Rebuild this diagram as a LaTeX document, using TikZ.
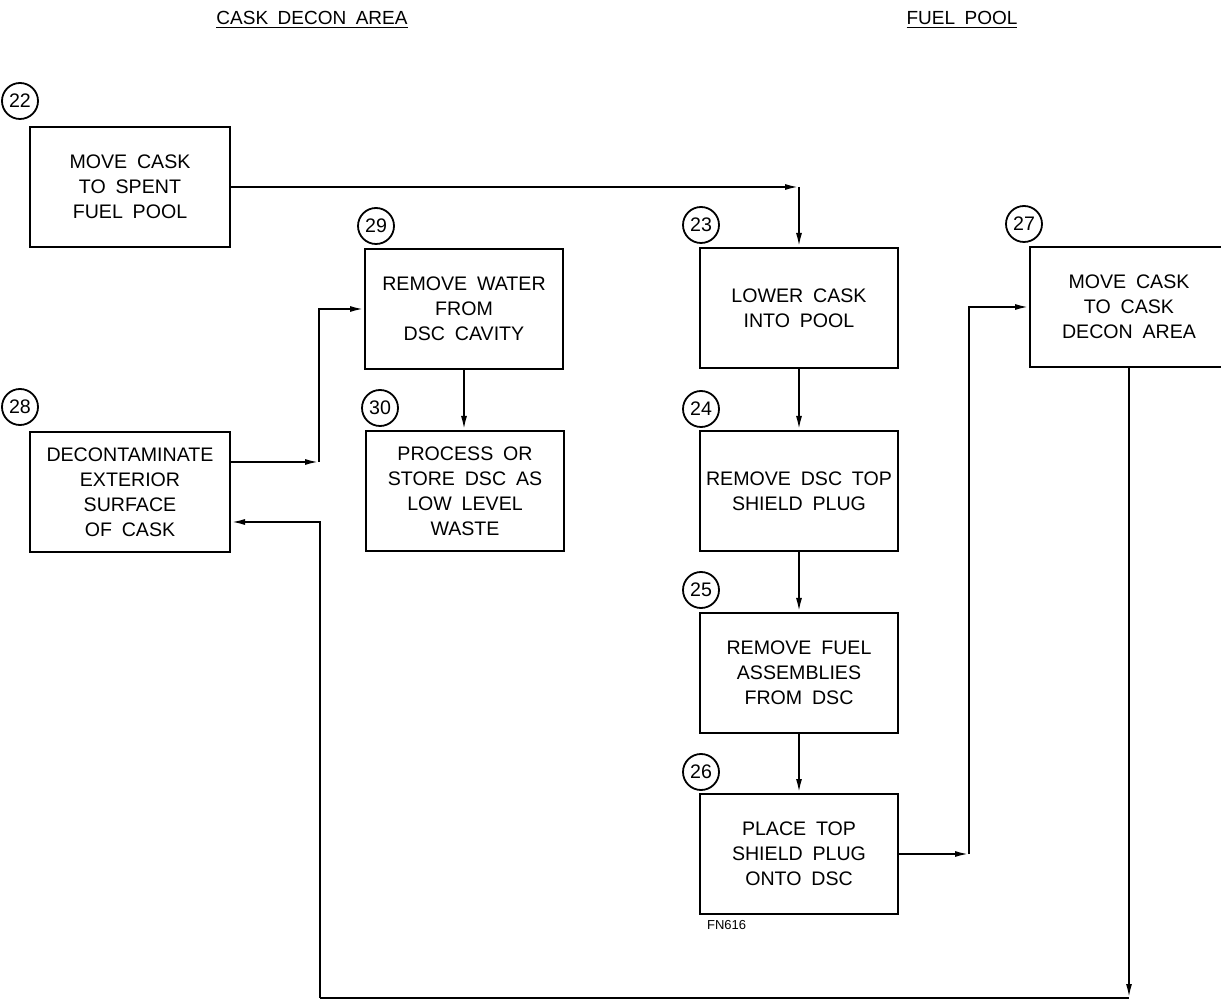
\documentclass[tikz,border=0pt]{standalone}
\usepackage{fontspec}
\setmainfont{Liberation Sans}[WordSpace=1.8]
\usetikzlibrary{arrows.meta,positioning,calc}
\tikzset{
  block/.style={
    draw=black,
    line width=1pt,
    align=center,
    minimum width=99pt,
    minimum height=60pt,
    inner sep=2pt,
    font=\fontsize{9.8}{12.5}\selectfont
  },
  stepno/.style={draw=black, circle, line width=0.9pt, minimum size=18pt, inner sep=0pt, font=\fontsize{9.8}{11}\selectfont},
  head/.style={font=\fontsize{9.5}{11}\selectfont},
  line/.style={-{Latex[length=7pt,width=3pt]}, line width=1pt}
}

\begin{document}
\begin{tikzpicture}[x=0.5pt, y=-0.5pt]
        \useasboundingbox (0,0) rectangle (1221,999);
        \clip (0,0) rectangle (1221,999);
        % area headings
        \node[head] (hdecon) at (312,20) {\underline{CASK DECON AREA}};
        \node[head] (hpool) at (962,20) {\underline{FUEL POOL}};
        % cask decon area
        \node[block, minimum width=100pt] (b22) at (130,187) {MOVE CASK\\TO SPENT\\FUEL POOL};
        \node[block, minimum width=100pt] (b28) at (130,492) {DECONTAMINATE\\EXTERIOR\\SURFACE\\OF CASK};
        \node[block] (b29) at (464,309) {REMOVE WATER\\FROM\\DSC CAVITY};
        \node[block] (b30) at (465,491) {PROCESS OR\\STORE DSC AS\\LOW LEVEL\\WASTE};
        % fuel pool
        \node[block] (b23) at (799,308) {LOWER CASK\\INTO POOL};
        \node[block] (b24) at (799,491) {REMOVE DSC TOP\\SHIELD PLUG};
        \node[block] (b25) at (799,673) {REMOVE FUEL\\ASSEMBLIES\\FROM DSC};
        \node[block] (b26) at (799,854) {PLACE TOP\\SHIELD PLUG\\ONTO DSC};
        \node[block] (b27) at (1129,307) {MOVE CASK\\TO CASK\\DECON AREA};
        % step numbers
        \node[stepno] (n22) at (20,101) {22};
        \node[stepno] (n28) at (20,407) {28};
        \node[stepno] (n29) at (376,226) {29};
        \node[stepno] (n30) at (380,408) {30};
        \node[stepno] (n23) at (701,225) {23};
        \node[stepno] (n24) at (701,409) {24};
        \node[stepno] (n25) at (701,590) {25};
        \node[stepno] (n26) at (701,772) {26};
        \node[stepno] (n27) at (1024,224) {27};
        \node[anchor=west, font=\fontsize{6.5}{7}\selectfont] (fn) at (700,925) {FN616};
        % connectors
        \draw[line] (b22.east) -- (b22.east -| b23.north) coordinate (k0);
        \draw[line] (k0) -- (b23.north);
        \draw[line] ([yshift=15pt]b28.east) -- ++(88,0) coordinate (k1);
        \draw[line] (k1) |- (b29.west);
        \draw[line] (b29.south) -- (b29.south |- b30.north);
        \draw[line] (b23.south) -- (b24.north);
        \draw[line] (b24.south) -- (b25.north);
        \draw[line] (b25.south) -- (b26.north);
        \draw[line] (b26.east) -- ++(70,0) coordinate (k2);
        \draw[line] (k2) |- (b27.west);
        \coordinate (k3) at (1130,998);
        \coordinate (k4) at (320,998);
        \draw[line] (b27.south) -- (b27.south |- k3);
        \draw[line width=1pt] (b27.south |- k3) -- (k4);
        \draw[line] (k4) |- ([yshift=-15pt]b28.east);
      \end{tikzpicture}
\end{document}
